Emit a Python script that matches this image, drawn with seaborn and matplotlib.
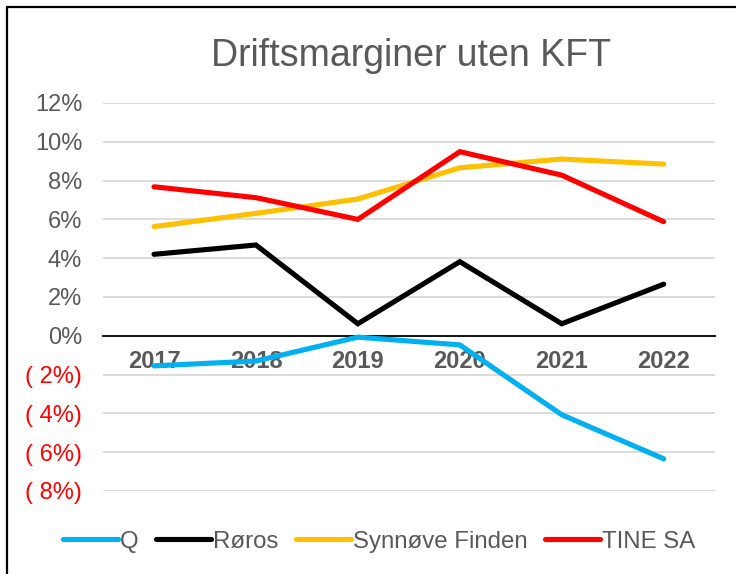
import pandas as pd
import numpy as np
import seaborn as sns
import matplotlib.pyplot as plt
from matplotlib.lines import Line2D
from matplotlib.ticker import FuncFormatter

# data (operating margin in %)
years = ['2017', '2018', '2019', '2020', '2021', '2022']
q = [-1.55, -1.3, -0.07, -0.47, -4.07, -6.34]
roros = [4.2, 4.68, 0.62, 3.82, 0.62, 2.66]
synnove = [5.63, 6.31, 7.05, 8.66, 9.11, 8.85]
tine = [7.68, 7.12, 6.0, 9.49, 8.28, 5.88]
series_names = ['Q', 'Røros', 'Synnøve Finden', 'TINE SA']
colors = ['#00B0F0', '#000000', '#FFC000', '#FF0000']
y_ticks = [-8, -6, -4, -2, 0, 2, 4, 6, 8, 10, 12]

df = pd.DataFrame({'År': years, 'Q': q, 'Røros': roros,
                   'Synnøve Finden': synnove, 'TINE SA': tine})
long_df = df.melt(id_vars='År', var_name='Selskap', value_name='Margin')

sns.set_theme(style='white')
plt.rcParams['font.family'] = ['Liberation Sans', 'DejaVu Sans']
gray = '#595959'

fig = plt.figure(figsize=(7.36, 5.74), dpi=100)
ax = fig.add_axes([0.140, 0.1446, 0.831, 0.676])

sns.lineplot(data=long_df, x='År', y='Margin', hue='Selskap',
             hue_order=series_names, palette=colors, linewidth=3.7,
             sort=False, legend=False, ax=ax)
for ln in ax.get_lines():
    ln.set_solid_capstyle('round')
    ln.set_solid_joinstyle('miter')

ax.set_xlim(-0.5, len(years) - 0.5)
ax.set_ylim(-8, 12)
ax.set_yticks(y_ticks)
ax.yaxis.grid(True, color='#D9D9D9', linewidth=1.3)
ax.set_axisbelow(True)


def pct(v, pos):
    if v < 0:
        return f'( {abs(v):.0f}%)'
    return f'{v:.0f}%'


ax.yaxis.set_major_formatter(FuncFormatter(pct))
ax.tick_params(axis='y', length=0, pad=15, labelsize=17, labelcolor=gray)
for lab, v in zip(ax.get_yticklabels(), y_ticks):
    if v < 0:
        lab.set_color('#FF0000')

for s in ['top', 'right', 'left']:
    ax.spines[s].set_visible(False)
ax.spines['bottom'].set_position(('data', 0))
ax.spines['bottom'].set_color('black')
ax.spines['bottom'].set_linewidth(1.3)
ax.spines['bottom'].set_zorder(1)
ax.tick_params(axis='x', length=0, pad=10.5, labelsize=17, labelcolor=gray)
for lab in ax.get_xticklabels():
    lab.set_fontweight('bold')
ax.set_xlabel('')
ax.set_ylabel('')

fig.text(0.559, 0.902, 'Driftsmarginer uten KFT', ha='center', va='center',
         fontsize=27, color=gray)

handles = [Line2D([], [], color=c, linewidth=3.7, solid_capstyle='round')
           for c in colors]
fig.legend(handles, series_names, loc='center', bbox_to_anchor=(0.515, 0.056),
           ncol=4, frameon=False, fontsize=17.3, labelcolor=gray,
           handlelength=2.3, handletextpad=0.1, columnspacing=0.7)

# chart frame (only left and top visible in the reference crop)
fig.add_artist(Line2D([0.0095, 0.0095], [0, 0.988], color='black', linewidth=1.6,
                      transform=fig.transFigure))
fig.add_artist(Line2D([0.0095, 1], [0.988, 0.988], color='black', linewidth=1.6,
                      transform=fig.transFigure))

fig.savefig('out.png', dpi=100)
